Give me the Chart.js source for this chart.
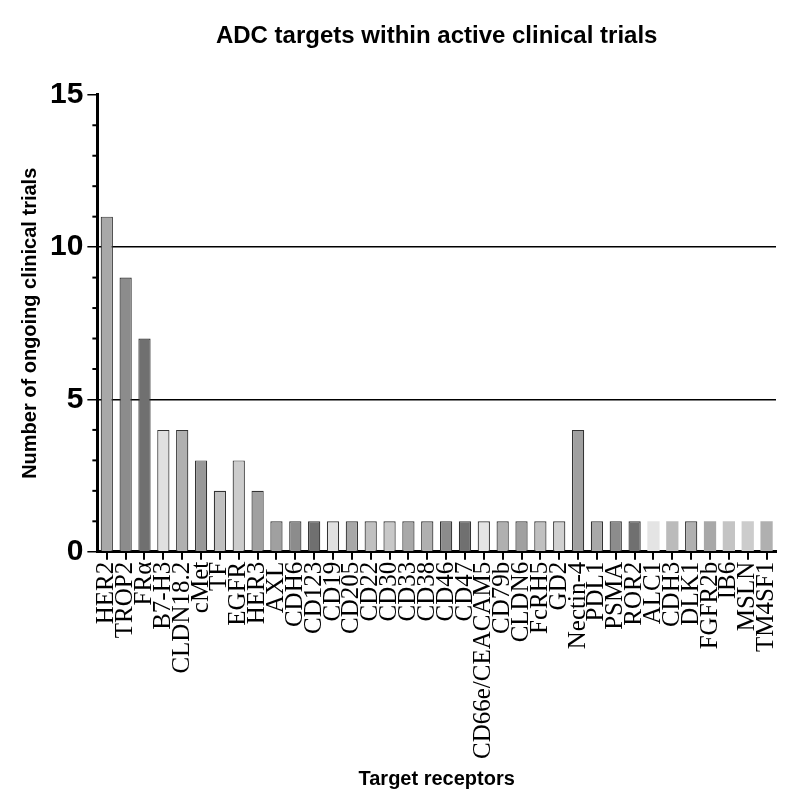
<!DOCTYPE html>
<html>
<head>
<meta charset="utf-8">
<script src="https://cdn.jsdelivr.net/npm/chart.js@4"></script>
<style>
  html, body { margin: 0; padding: 0; background: #fff; }
  #wrap { width: 800px; height: 807px; }
</style>
</head>
<body>
<div id="wrap"><canvas id="adcChart"></canvas></div>
<script>
// ===========================
// Data
// ===========================

const targets = ['HER2', 'TROP2', 'FRα', 'B7-H3', 'CLDN18.2', 'cMet', 'TF', 'EGFR', 'HER3',
    'AXL', 'CDH6', 'CD123', 'CD19', 'CD205', 'CD22', 'CD30', 'CD33', 'CD38', 'CD46', 'CD47',
    'CD66e/CEACAM5', 'CD79b', 'CLDN6', 'FcRH5', 'GD2', 'Nectin-4', 'PDL1', 'PSMA', 'ROR2',
    'ALC1', 'CDH3', 'DLK1', 'FGFR2b', 'IB6', 'MSLN', 'TM4SF1'];

const trials = [11, 9, 7, 4, 4, 3, 2, 3, 2,
    1, 1, 1, 1, 1, 1, 1, 1, 1, 1, 1,
    1, 1, 1, 1, 1, 4, 1, 1, 1,
    1, 1, 1, 1, 1, 1, 1];

const barColors = ['#a8a8a8', '#8c8c8c', '#707070', '#e0e0e0', '#b0b0b0', '#989898', '#c0c0c0', '#cccccc', '#a0a0a0',
    '#a0a0a0', '#8c8c8c', '#707070', '#e0e0e0', '#a8a8a8', '#c0c0c0', '#c8c8c8', '#a8a8a8', '#b0b0b0', '#8c8c8c', '#707070',
    '#e4e4e4', '#b0b0b0', '#a0a0a0', '#c0c0c0', '#d0d0d0', '#a0a0a0', '#a8a8a8', '#8c8c8c', '#707070',
    '#e4e4e4', '#bbbbbb', '#b0b0b0', '#a8a8a8', '#c4c4c4', '#cccccc', '#b0b0b0'];

const borderWidths = targets.map((t, i) => (i >= 29 && t !== 'DLK1') ? 0 : 1.2);

const yTicks = [0, 5, 10, 15];

// minor y ticks between the labelled ones
const minorTicks = {
    id: 'minorTicks',
    afterDraw(chart) {
        const y = chart.scales.y;
        const ctx = chart.ctx;
        ctx.save();
        ctx.strokeStyle = '#000';
        ctx.lineWidth = 2;
        for (let v = 0; v <= 15; v++) {
            if (yTicks.includes(v)) continue;
            const py = y.getPixelForValue(v);
            ctx.beginPath();
            ctx.moveTo(y.right - 5, py);
            ctx.lineTo(y.right, py);
            ctx.stroke();
        }
        ctx.restore();
    }
};

new Chart(document.getElementById('adcChart'), {
    type: 'bar',
    data: {
        labels: targets,
        datasets: [{
            data: trials,
            backgroundColor: barColors,
            borderColor: '#333',
            borderWidth: borderWidths,
            barPercentage: 0.65,
            categoryPercentage: 1
        }]
    },
    plugins: [minorTicks],
    options: {
        responsive: true,
        maintainAspectRatio: false,
        animation: false,
        layout: { padding: { left: 14, right: 24, top: 22, bottom: 12 } },
        plugins: {
            legend: { display: false },
            tooltip: { enabled: false }
        },
        scales: {
            x2: {
                position: 'top',
                labels: targets,
                grid: { display: false },
                border: { display: false },
                ticks: { display: false },
                title: {
                    display: true,
                    text: 'ADC targets within active clinical trials',
                    color: '#000',
                    font: { family: 'Liberation Sans', size: 24, weight: 'bold' },
                    padding: { top: 0, bottom: 36 }
                }
            },
            x: {
                offset: true,
                grid: {
                    display: true,
                    drawOnChartArea: false,
                    offset: false,
                    color: '#000',
                    lineWidth: 2,
                    tickLength: 8
                },
                border: { display: true, color: '#000', width: 3 },
                ticks: {
                    autoSkip: false,
                    minRotation: 90,
                    maxRotation: 90,
                    color: '#000',
                    padding: 2,
                    font: { family: 'Liberation Serif', size: 25 }
                },
                title: {
                    display: true,
                    text: 'Target receptors',
                    color: '#000',
                    font: { family: 'Liberation Sans', size: 20, weight: 'bold' },
                    padding: { top: 6 }
                }
            },
            y: {
                min: 0,
                max: 15,
                afterBuildTicks(scale) {
                    scale.ticks = yTicks.map(v => ({ value: v }));
                },
                grid: {
                    color: ctx => (ctx.tick && (ctx.tick.value === 5 || ctx.tick.value === 10)) ? '#000' : 'rgba(0,0,0,0)',
                    tickColor: '#000',
                    lineWidth: 1.5,
                    tickLength: 10
                },
                border: { display: true, color: '#000', width: 3 },
                ticks: {
                    color: '#000',
                    padding: 4,
                    font: { family: 'Liberation Sans', size: 30, weight: 'bold' }
                },
                title: {
                    display: true,
                    text: 'Number of ongoing clinical trials',
                    color: '#000',
                    font: { family: 'Liberation Sans', size: 20, weight: 'bold' },
                    padding: { bottom: 4 }
                }
            }
        }
    }
});
</script>
</body>
</html>
